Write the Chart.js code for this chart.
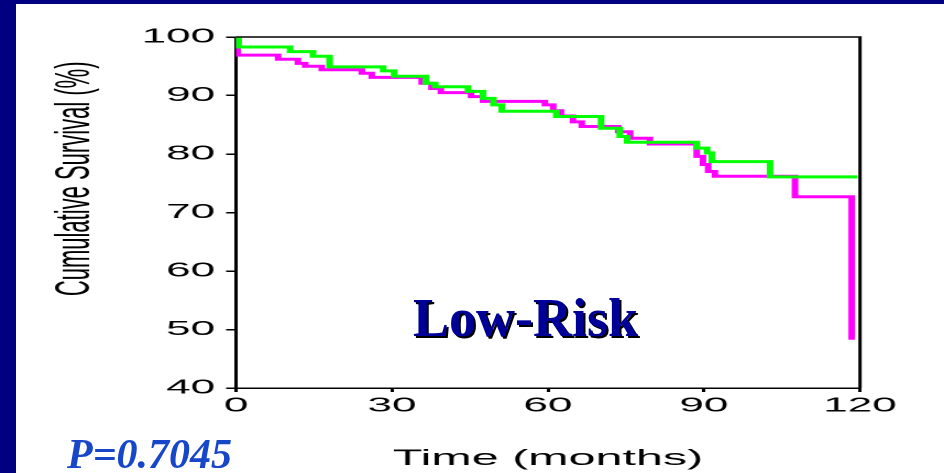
<!DOCTYPE html>
<html>
<head>
<meta charset="utf-8">
<script src="https://cdn.jsdelivr.net/npm/chart.js@4/dist/chart.umd.min.js"></script>
<style>
  html, body { margin: 0; padding: 0; background: #fff; width: 944px; height: 473px; overflow: hidden; }
  #wrap { position: absolute; left: 0; top: 0; width: 429px; height: 473px; transform-origin: 0 0; }
  .bar { position: absolute; background: #000080; z-index: 3; }
  #barLeft { left: 0; top: 0; width: 16px; height: 473px; }
  #barTop { left: 0; top: 0; width: 944px; height: 4px; }
  #risk {
    position: absolute; left: 413px; top: 291px; z-index: 4;
    font: bold 54px/54px "Liberation Serif", "Times New Roman", serif;
    color: #000099; text-shadow: 2px 2px 0 #000; white-space: nowrap;
  }
  #pval {
    position: absolute; left: 67px; top: 433px; z-index: 4;
    font: italic bold 42px/42px "Liberation Serif", "Times New Roman", serif;
    color: #1747c8; white-space: nowrap;
  }
</style>
</head>
<body>
<div class="bar" id="barLeft"></div>
<div class="bar" id="barTop"></div>
<div id="wrap"><canvas id="chart" width="429" height="473"></canvas></div>
<div id="risk">Low-Risk</div>
<div id="pval">P=0.7045</div>
<script>
  // The original chart is a stretched picture: draw narrow, then widen
  const canvasWidth = 429;
  const stretch = 944 / canvasWidth;
  document.getElementById('wrap').style.transform = `scaleX(${stretch})`;

  // Kaplan-Meier steps (time in months, survival in %)
  const greenTime = [0, 0.5, 10.4, 14.8, 18.0, 28.3, 30.4, 36.5, 38.3, 44.6, 47.5, 49.5, 51.1, 61.6, 70.2, 73.8, 75.2, 88.6, 90.6, 91.5, 102.7, 119.5];
  const greenSurv = [100, 98.3, 97.5, 96.7, 94.9, 94.2, 93.3, 92.1, 91.5, 90.7, 89.5, 88.4, 87.3, 86.4, 84.4, 83.0, 82.0, 81.0, 80.2, 78.7, 76.1, 76.1];
  const pinkTime = [0, 0.3, 8.1, 11.9, 13.3, 16.5, 24.2, 26.1, 35.7, 37.6, 39.4, 45.2, 47.5, 59.4, 61.0, 62.5, 64.8, 66.5, 73.5, 75.8, 79.6, 88.6, 89.8, 90.8, 92.1, 107.5, 118.4, 119.0];
  const pinkSurv = [100, 96.9, 96.2, 95.5, 95.0, 94.4, 93.8, 93.1, 92.1, 91.2, 90.5, 89.8, 89.0, 88.4, 87.4, 86.5, 85.5, 84.7, 83.8, 82.7, 81.7, 79.6, 78.2, 77.0, 76.2, 72.7, 48.5, 48.5];
  const xTicks = [0, 30, 60, 90, 120];
  const yTicks = [40, 50, 60, 70, 80, 90, 100];

  const toPoints = (t, s) => t.map((x, i) => ({ x, y: s[i] }));

  // Plot area edges in page pixels
  const plotLeft = 236, plotRight = 860, plotTop = 37, plotBottom = 388;

  // Box round the plot area (top and right edges)
  const frame = {
    id: 'frame',
    afterDatasetsDraw(chart) {
      const { ctx, chartArea: a } = chart;
      ctx.save();
      ctx.strokeStyle = '#000';
      ctx.lineWidth = 1.5;
      ctx.beginPath();
      ctx.moveTo(a.left, a.top);
      ctx.lineTo(a.right, a.top);
      ctx.lineTo(a.right, a.bottom);
      ctx.stroke();
      ctx.restore();
    }
  };

  const sans = '"Liberation Sans", Arial, sans-serif';

  new Chart(document.getElementById('chart'), {
    type: 'line',
    data: {
      datasets: [
        { data: toPoints(greenTime, greenSurv), borderColor: '#00ff00', borderWidth: 3, stepped: 'before', pointRadius: 0, fill: false },
        { data: toPoints(pinkTime, pinkSurv), borderColor: '#ff00ff', borderWidth: 3, stepped: 'before', pointRadius: 0, fill: false }
      ]
    },
    options: {
      responsive: false,
      devicePixelRatio: 2,
      animation: false,
      events: [],
      layout: { padding: { left: 0, top: plotTop, right: canvasWidth - plotRight / stretch, bottom: 0 } },
      plugins: { legend: { display: false }, tooltip: { enabled: false } },
      scales: {
        x: {
          type: 'linear', min: 0, max: 120,
          afterBuildTicks: s => { s.ticks = xTicks.map(v => ({ value: v })); },
          afterFit: s => { s.height = 473 - plotBottom; },
          grid: { drawOnChartArea: false, drawTicks: true, tickLength: 4, color: '#000', lineWidth: 1.5 },
          border: { display: true, color: '#000', width: 1.5 },
          ticks: { color: '#000', font: { family: sans, size: 20 }, padding: 2, maxRotation: 0 },
          title: { display: true, text: 'Time (months)', color: '#000', font: { family: sans, size: 22 }, padding: { top: 0, bottom: 1 } }
        },
        y: {
          type: 'linear', min: 40, max: 100,
          afterBuildTicks: s => { s.ticks = yTicks.map(v => ({ value: v })); },
          afterFit: s => { s.width = plotLeft / stretch; },
          grid: { drawOnChartArea: false, drawTicks: true, tickLength: 4.5, color: '#000', lineWidth: 1.5 },
          border: { display: true, color: '#000', width: 1.5 },
          ticks: { color: '#000', font: { family: sans, size: 20 }, padding: 5 },
          // trailing spaces keep the title's top end a little below the plot's top
          title: { display: true, text: 'Cumulative Survival (%)    ', align: 'end', color: '#000', font: { family: sans, size: 22 }, padding: { top: 21, bottom: 0 } }
        }
      }
    },
    plugins: [frame]
  });
</script>
</body>
</html>
